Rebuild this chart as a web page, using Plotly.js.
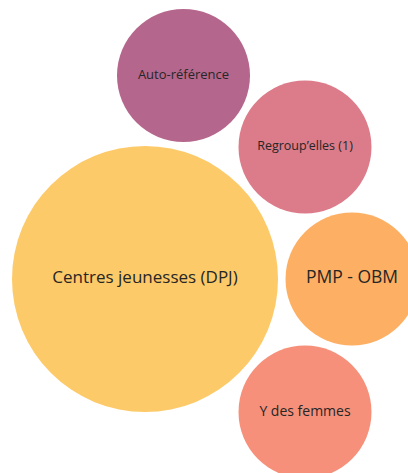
<!DOCTYPE html>
<html>
<head>
<meta charset="utf-8">
<script src="https://cdn.plot.ly/plotly-3.0.1.min.js"></script>
<style>html,body{margin:0;padding:0;background:#fff;}#chart{width:408px;height:473px;}</style>
</head>
<body>
<div id="chart"></div>
<script>
const labels = ["Centres jeunesses (DPJ)", "Auto-référence", "Regroup’elles (1)", "PMP - OBM", "Y des femmes"];
const values = [4, 1, 1, 1, 1];
const xPos = [145, 183.5, 305, 352, 305];
const yPos = [279, 75.5, 147, 279, 412];
const colors = ["#fdca69", "#b5668c", "#dc7b89", "#fdb064", "#f6907a"];
const textSizes = [17, 13, 12.5, 17.5, 14];

const unitDiameter = 133;
const sizes = values.map(v => Math.sqrt(v) * unitDiameter);

Plotly.newPlot('chart', [{
  type: 'scatter',
  mode: 'markers+text',
  x: xPos,
  y: yPos,
  text: labels,
  textposition: 'middle center',
  textfont: {family: 'Open Sans, sans-serif', size: textSizes, color: '#262626'},
  marker: {size: sizes, sizemode: 'diameter', color: colors, opacity: 1, line: {width: 0}},
  hoverinfo: 'text',
  cliponaxis: false
}], {
  width: 408, height: 473,
  margin: {l: 0, r: 0, t: 0, b: 0},
  paper_bgcolor: '#fff', plot_bgcolor: '#fff',
  showlegend: false,
  xaxis: {range: [0, 408], visible: false, fixedrange: true},
  yaxis: {range: [473, 0], visible: false, fixedrange: true}
}, {displayModeBar: false, staticPlot: true});
</script>
</body>
</html>
